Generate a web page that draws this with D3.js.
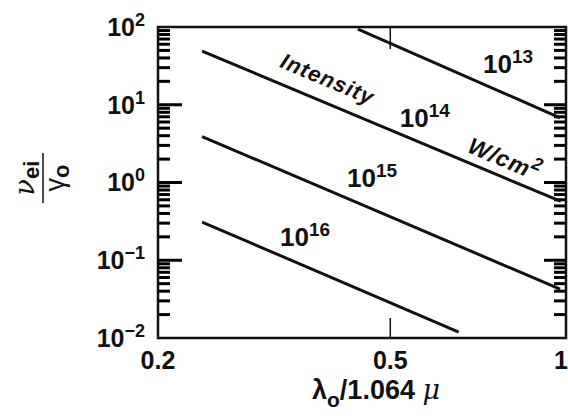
<!DOCTYPE html>
<html>
<head>
<meta charset="utf-8">
<script src="https://d3js.org/d3.v7.min.js"></script>
<style>
  body { margin: 0; background: #fff; }
  text { font-family: "Liberation Sans", Arial, sans-serif; font-weight: bold; fill: #111; }
</style>
</head>
<body>
<div id="chart"></div>
<script>
// intensity labels (W/cm^2 exponents) for each curve
var intensityExp = ["13", "14", "15", "16"];
// curve end points: lambda/1.064 and nu_ei/gamma_o
var lambdaStart = [0.44, 0.238, 0.238, 0.238];
var lambdaEnd   = [0.977, 0.98, 0.977, 0.655];
var ratioStart  = [94, 49, 3.9, 0.31];
var ratioEnd    = [6.8, 0.57, 0.0425, 0.0119];
// tick values
var xTicks = [0.2, 0.5, 1];
var xTickLabels = ["0.2", "0.5", "1"];
var yExps = [2, 1, 0, -1, -2];

var width = 568, height = 419;
var mLeft = 158, mRight = 566, mTop = 27, mBottom = 338;

var svg = d3.select("#chart").append("svg")
    .attr("width", width)
    .attr("height", height);

var x = d3.scaleLog().domain([0.2, 1]).range([mLeft, mRight]);
var y = d3.scaleLog().domain([0.01, 100]).range([mBottom, mTop]);

// minor and major ticks on the y axis (both sides, pointing inward)
var minorY = [];
for (var ex = -2; ex < 2; ex++) {
  for (var mm = 2; mm <= 9; mm++) minorY.push(mm * Math.pow(10, ex));
}
var majorY = [0.1, 1, 10];

function yTicks(vals, x0, len) {
  svg.append("g")
    .attr("stroke", "#000")
    .attr("stroke-width", 3)
    .selectAll(null).data(vals).enter().append("line")
      .attr("x1", x0).attr("x2", x0 + len)
      .attr("y1", function(d) { return y(d); })
      .attr("y2", function(d) { return y(d); });
}

// frame
svg.append("rect")
  .attr("x", mLeft).attr("y", mTop)
  .attr("width", mRight - mLeft).attr("height", mBottom - mTop)
  .attr("fill", "none").attr("stroke", "#111").attr("stroke-width", 2.5);

yTicks(minorY, mLeft, 12);
yTicks(majorY, mLeft, 24);
yTicks(minorY, mRight, -12);
yTicks(majorY, mRight, -22);

// x ticks only at 0.5, top and bottom
var xp = d3.path();
xp.moveTo(x(0.5), mBottom); xp.lineTo(x(0.5), mBottom - 20);
xp.moveTo(x(0.5), mTop); xp.lineTo(x(0.5), mTop + 22);
svg.append("path").attr("d", xp.toString())
  .attr("fill", "none").attr("stroke", "#111").attr("stroke-width", 1.5);

// y tick labels
yExps.forEach(function(k) {
  var t = svg.append("text")
    .attr("x", 145)
    .attr("y", y(Math.pow(10, k)))
    .attr("dy", "0.35em")
    .attr("text-anchor", "end")
    .style("font-size", "25px");
  t.append("tspan").text("10");
  t.append("tspan").attr("dy", -10).style("font-size", "18px")
    .text(k < 0 ? "\u2212" + (-k) : String(k));
});

// x tick labels
xTicks.forEach(function(v, i) {
  svg.append("text")
    .attr("x", i == 2 ? x(v) - 5 : x(v))
    .attr("y", 369)
    .attr("text-anchor", "middle")
    .style("font-size", "25px")
    .text(xTickLabels[i]);
});

// curves
var lineGen = d3.line().x(function(d) { return x(d[0]); }).y(function(d) { return y(d[1]); });
intensityExp.forEach(function(n, i) {
  svg.append("path")
    .attr("d", lineGen([[lambdaStart[i], ratioStart[i]], [lambdaEnd[i], ratioEnd[i]]]))
    .attr("fill", "none")
    .attr("stroke", "#111")
    .attr("stroke-width", 3);
});

// curve labels (position in data units)
var labelX = [0.721, 0.519, 0.4217, 0.3236];
var labelY = [25.7, 5.23, 0.863, 0.151];
intensityExp.forEach(function(n, i) {
  var t = svg.append("text")
    .attr("x", x(labelX[i]))
    .attr("y", y(labelY[i]))
    .style("font-size", "26px");
  t.append("tspan").text("10");
  t.append("tspan").attr("dy", -10).style("font-size", "19px").text(n);
});

// slanted "Intensity" and "W/cm2" along the lines
var ang = Math.atan2(y(ratioEnd[1]) - y(ratioStart[1]), x(lambdaEnd[1]) - x(lambdaStart[1])) * 180 / Math.PI;
svg.append("text")
  .attr("transform", "translate(" + x(0.322) + "," + y(30.7) + ") rotate(" + ang + ")")
  .style("font-size", "22px").style("font-style", "italic").style("letter-spacing", "1px")
  .text("Intensity");
var wc = svg.append("text")
  .attr("transform", "translate(" + x(0.675) + "," + y(2.49) + ") rotate(" + ang + ")")
  .style("font-size", "23px").style("font-style", "italic").style("letter-spacing", "1px");
wc.append("tspan").text("W/cm");
wc.append("tspan").attr("dy", -10).style("font-size", "18px").text("2");

// x axis title
var xt = svg.append("text")
  .attr("x", 376).attr("y", 399)
  .attr("text-anchor", "middle")
  .style("font-size", "27px");
xt.append("tspan").text("\u03bb");
xt.append("tspan").attr("dy", 8).style("font-size", "21px").text("o");
xt.append("tspan").attr("dy", -8).text("/1.064 ");
xt.append("tspan").style("font-family", "'DejaVu Serif', serif").style("font-style", "italic")
  .style("font-weight", "normal").text("\u03bc");

// y axis title: fraction nu_ei / gamma_o, rotated
var yt = svg.append("g").attr("transform", "translate(43,178) rotate(-90)");
yt.append("line").attr("x1", -25).attr("x2", 25).attr("y1", 0).attr("y2", 0)
  .attr("stroke", "#111").attr("stroke-width", 1.5);
var num = yt.append("text").attr("x", 0).attr("y", -9).attr("text-anchor", "middle")
  .style("font-size", "27px");
num.append("tspan").style("font-family", "'DejaVu Serif', serif").style("font-style", "italic")
  .style("font-weight", "normal").text("\u03bd");
num.append("tspan").attr("dy", 5).style("font-size", "22px").text("ei");
var den = yt.append("text").attr("x", 0).attr("y", 21).attr("text-anchor", "middle")
  .style("font-size", "27px");
den.append("tspan").style("font-weight", "normal").text("\u03b3");
den.append("tspan").attr("dy", 5).style("font-size", "22px").text("o");
</script>
</body>
</html>
